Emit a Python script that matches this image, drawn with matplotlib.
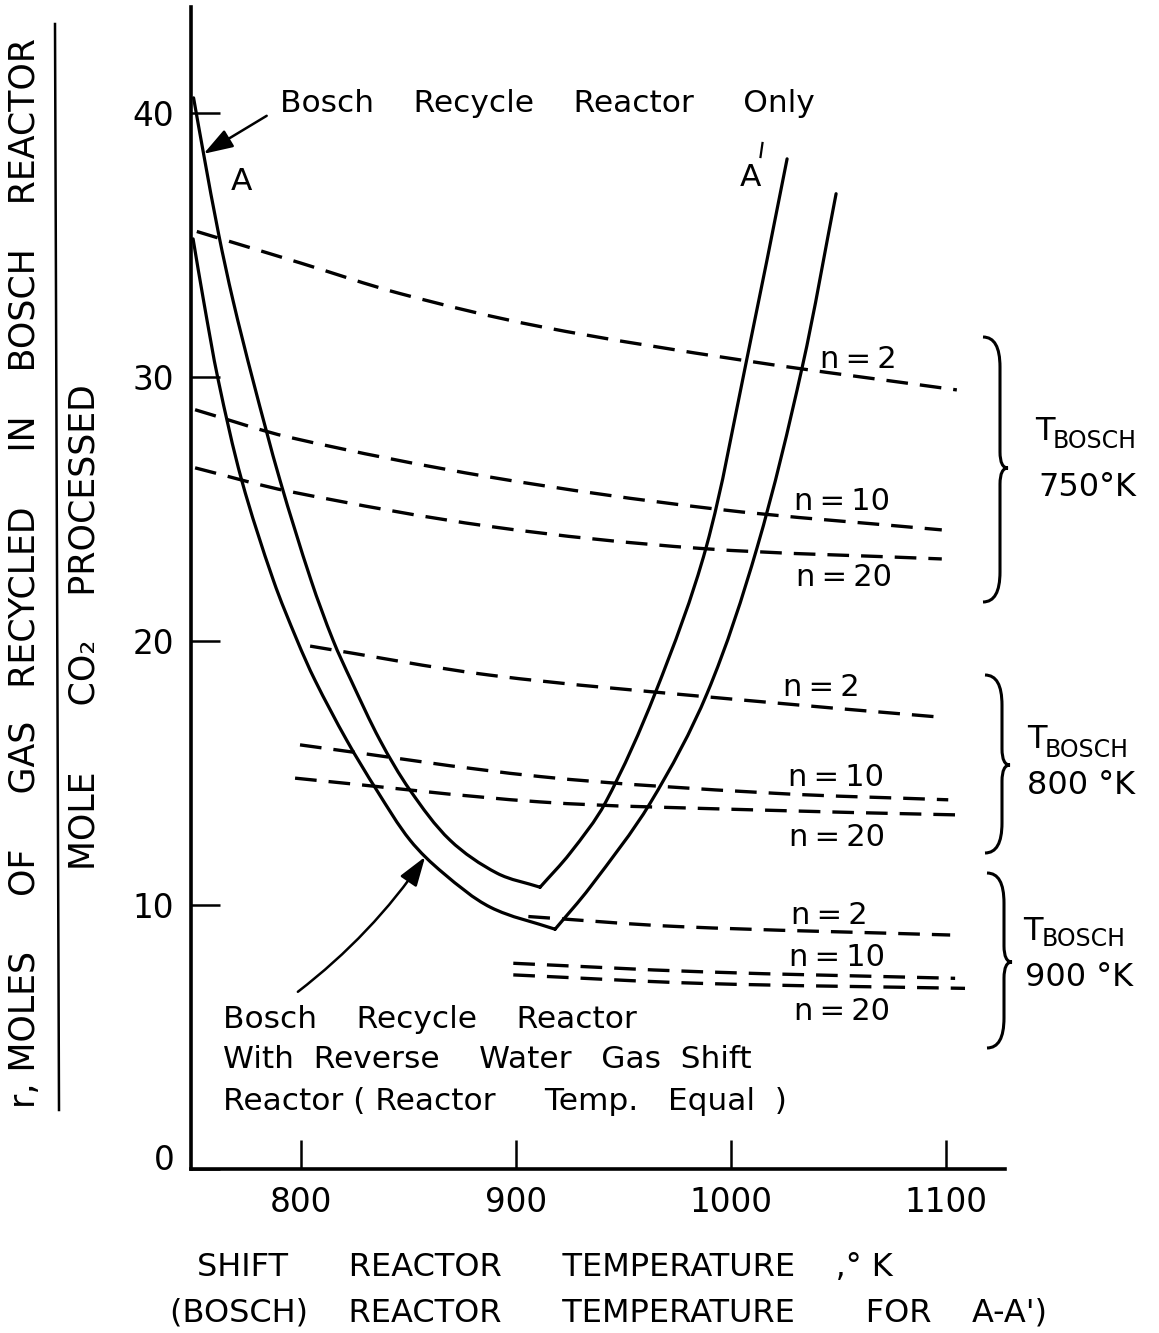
import matplotlib
matplotlib.use("Agg")
import numpy as np
import matplotlib.pyplot as plt
from matplotlib.path import Path
from matplotlib.patches import PathPatch, FancyArrowPatch
from matplotlib.transforms import ScaledTranslation

plt.rcParams['font.family'] = ['DejaVu Sans']

# ---- curve A-A': Bosch recycle reactor only (x = Bosch reactor temperature)
bosch_only_T = [750.0, 754.65, 761.63, 768.37, 777.67, 790.23, 804.65, 814.88, 823.26, 836.74,
                850.70, 869.30, 891.16, 911.16, 925.12, 941.40, 964.65, 988.37, 1006.98, 1026.05]
bosch_only_r = [40.56, 38.44, 35.41, 32.88, 29.85, 26.07, 22.29, 20.02, 18.50, 16.23,
                14.34, 12.45, 11.20, 10.67, 11.96, 13.85, 18.01, 23.53, 30.53, 38.25]

# ---- Bosch recycle reactor with reverse water gas shift reactor (equal temps)
bosch_rwgs_T = [749.77, 754.65, 761.53, 772.42, 787.12, 798.14, 806.51, 821.26, 835.21, 850.70,
                866.19, 888.09, 918.14, 934.42, 962.33, 988.84, 1012.09, 1033.02, 1048.84]
bosch_rwgs_r = [35.22, 32.88, 29.85, 26.07, 22.29, 20.02, 18.50, 16.23, 14.34, 12.45,
                11.20, 9.91, 9.08, 10.67, 13.85, 18.01, 23.53, 30.34, 36.93]

# ---- dashed families: recycle vs shift reactor temperature
t750_n2_T = [751.5, 800.0, 846.0, 911.2, 1007.3, 1105.0]
t750_n2_r = [35.5, 34.3, 33.15, 31.9, 30.6, 29.5]
t750_n10_T = [750.7, 794.9, 887.9, 991.8, 1098.0]
t750_n10_r = [28.75, 27.7, 26.2, 25.0, 24.2]
t750_n20_T = [750.7, 794.9, 887.9, 985.6, 1098.0]
t750_n20_r = [26.55, 25.65, 24.33, 23.5, 23.1]

t800_n2_T = [804.2, 887.9, 999.5, 1098.7]
t800_n2_r = [19.8, 18.7, 17.8, 17.1]
t800_n10_T = [799.5, 911.2, 1019.7, 1101.0]
t800_n10_r = [16.06, 14.86, 14.23, 13.98]
t800_n20_T = [797.2, 911.2, 1010.0, 1104.2]
t800_n20_r = [14.8, 13.9, 13.6, 13.41]

t900_n2_T = [905.7, 975.5, 1101.9]
t900_n2_r = [9.56, 9.18, 8.86]
t900_n10_T = [898.7, 985.6, 1104.2]
t900_n10_r = [7.79, 7.47, 7.22]
t900_n20_T = [898.7, 985.6, 1108.8]
t900_n20_r = [7.35, 7.03, 6.84]

x_ticks = [800, 900, 1000, 1100]
x_tick_labels = ["800", "900", "1000", "1100"]
y_ticks = [0, 10, 20, 30, 40]
y_tick_labels = ["0", "10", "20", "30", "40"]

W, H = 1159, 1333
fig = plt.figure(figsize=(W / 100, H / 100), dpi=100)
ax = fig.add_axes([191 / W, 1 - 1169 / H, (1005 - 191) / W, (1169 - 7) / H])
ax.set_xlim(748.8, 1127.4)
ax.set_ylim(0, 44.0)

for side in ("top", "right"):
    ax.spines[side].set_visible(False)
for side in ("left", "bottom"):
    ax.spines[side].set_linewidth(2.6)

ax.set_xticks(x_ticks, x_tick_labels)
ax.set_yticks(y_ticks, y_tick_labels)
ax.tick_params(axis="both", direction="in", length=21, width=1.8, labelsize=23.5)
ax.tick_params(axis="x", pad=12)
ax.tick_params(axis="y", pad=12)
zero_lbl = ax.get_yticklabels()[0]
zero_lbl.set_transform(zero_lbl.get_transform() + ScaledTranslation(0, 12 / 100, fig.dpi_scale_trans))


def smooth_curve(xs, ys, corners=(), **kw):
    """Draw a smooth cubic curve through the given data points (tangents from
    chord-length finite differences in screen space); sharp corners are kept
    at the listed point indices."""
    pts = np.column_stack([xs, ys]).astype(float)
    scr = ax.transData.transform(pts)
    cuts = [0] + sorted(corners) + [len(pts) - 1]
    verts, codes = [], []
    for a, b in zip(cuts[:-1], cuts[1:]):
        seg, sseg = pts[a:b + 1], scr[a:b + 1]
        n = len(seg)
        t = np.concatenate([[0.0], np.cumsum(np.hypot(*np.diff(sseg, axis=0).T))])
        m = np.zeros_like(seg)
        for i in range(n):
            lo, hi = max(i - 1, 0), min(i + 1, n - 1)
            m[i] = (seg[hi] - seg[lo]) / (t[hi] - t[lo])
        verts.append(seg[0])
        codes.append(Path.MOVETO)
        for i in range(n - 1):
            h = t[i + 1] - t[i]
            verts += [seg[i] + m[i] * h / 3.0, seg[i + 1] - m[i + 1] * h / 3.0, seg[i + 1]]
            codes += [Path.CURVE4] * 3
    patch = PathPatch(Path(verts, codes), fill=False, transform=ax.transData,
                      clip_on=False, **kw)
    ax.add_patch(patch)
    return patch


solid = dict(edgecolor="black", lw=2.3, capstyle="round", joinstyle="round")
smooth_curve(bosch_only_T, bosch_only_r, corners=(13,), **solid)
smooth_curve(bosch_rwgs_T, bosch_rwgs_r, corners=(12,), **solid)

dashed = dict(edgecolor="black", lw=2.4, linestyle=(0, (6.5, 3.6)), capstyle="butt")
for xs, ys in [(t750_n2_T, t750_n2_r), (t750_n10_T, t750_n10_r), (t750_n20_T, t750_n20_r),
               (t800_n2_T, t800_n2_r), (t800_n10_T, t800_n10_r), (t800_n20_T, t800_n20_r),
               (t900_n2_T, t900_n2_r), (t900_n10_T, t900_n10_r), (t900_n20_T, t900_n20_r)]:
    smooth_curve(xs, ys, **dashed)

# arrows pointing at the two solid curves
ax.add_patch(FancyArrowPatch((784.0, 39.88), (bosch_only_T[1], bosch_only_r[1]),
                             arrowstyle="-|>,head_length=0.9,head_width=0.3",
                             mutation_scale=20, lw=1.8, color="black", clip_on=False,
                             shrinkA=0, shrinkB=0))
ax.add_patch(FancyArrowPatch((798.5, 6.71), (857.7, 11.82),
                             connectionstyle="arc3,rad=0.08",
                             arrowstyle="-|>,head_length=0.9,head_width=0.3",
                             mutation_scale=20, lw=1.8, color="black", clip_on=False,
                             shrinkA=0, shrinkB=0))

# overlay in pixel units for lettering and braces
ov = fig.add_axes([0, 0, 1, 1], facecolor="none")
ov.set_xlim(0, W)
ov.set_ylim(H, 0)
ov.axis("off")

fs = 22.5
ov.text(280, 103, "Bosch    Recycle    Reactor     Only", fontsize=fs, ha="left", va="center")
ov.text(241, 182, "A", fontsize=fs, ha="center", va="center")
ov.text(750, 177, "A", fontsize=fs, ha="center", va="center")
ov.plot([760.5, 762.5], [157, 143], color="black", lw=1.6)

ov.text(223, 1019, "Bosch    Recycle    Reactor", fontsize=fs, ha="left", va="center")
ov.text(223, 1059, "With  Reverse    Water   Gas  Shift", fontsize=fs, ha="left", va="center")
ov.text(223, 1101, "Reactor ( Reactor     Temp.   Equal  )", fontsize=fs, ha="left", va="center")

nlab = [("n\u2009=\u20092", 858, 360), ("n\u2009=\u200910", 842, 502), ("n\u2009=\u200920", 844, 577),
        ("n\u2009=\u20092", 821, 688), ("n\u2009=\u200910", 836, 777), ("n\u2009=\u200920", 837, 837),
        ("n\u2009=\u20092", 829, 915), ("n\u2009=\u200910", 837, 958), ("n\u2009=\u200920", 842, 1012)]
for s, x, y in nlab:
    ov.text(x, y, s, fontsize=22, ha="center", va="center")


def brace(x0, top, mid, bot):
    x1, x2 = x0 + 17, x0 + 25
    verts = [(x0, top), (x1, top), (x1, top + 30),
             (x1, mid - 16),
             (x1, mid), (x2, mid),
             (x1, mid), (x1, mid + 16),
             (x1, bot - 30),
             (x1, bot), (x0, bot)]
    codes = [Path.MOVETO, Path.CURVE3, Path.CURVE3, Path.LINETO,
             Path.CURVE3, Path.CURVE3, Path.CURVE3, Path.CURVE3,
             Path.LINETO, Path.CURVE3, Path.CURVE3]
    ov.add_patch(PathPatch(Path(verts, codes), fill=False, lw=2.2, edgecolor="black"))


brace(983, 337, 468, 602)
brace(985, 675, 765, 853)
brace(987, 873, 962, 1048)

for tx, ty, bx, by, tlabel, tlx, tly in [(1035, 432, 1053, 441, "750°K", 1038, 487),
                                         (1027, 739, 1045, 750, "800 °K", 1027, 785),
                                         (1023, 932, 1042, 939, "900 °K", 1025, 978)]:
    ov.text(tx, ty, "T", fontsize=23, ha="left", va="center")
    ov.text(bx, by, "BOSCH", fontsize=17, ha="left", va="center")
    ov.text(tlx, tly, tlabel, fontsize=23, ha="left", va="center")

# axis titles
ov.text(25, 573, "r, MOLES     OF     GAS   RECYCLED     IN    BOSCH    REACTOR", fontsize=25,
        rotation=90, ha="center", va="center")
ov.plot([55, 59], [24, 1110], color="black", lw=1.8)
ov.text(85, 627, "MOLE      CO\u2082    PROCESSED", fontsize=25, rotation=90, ha="center", va="center")

ov.text(197, 1268, "SHIFT      REACTOR      TEMPERATURE    ,° K", fontsize=23, ha="left", va="center")
ov.text(170, 1313, "(BOSCH)    REACTOR      TEMPERATURE       FOR    A-A')", fontsize=23,
        ha="left", va="center")

fig.savefig("out.png", dpi=100, facecolor="white")
